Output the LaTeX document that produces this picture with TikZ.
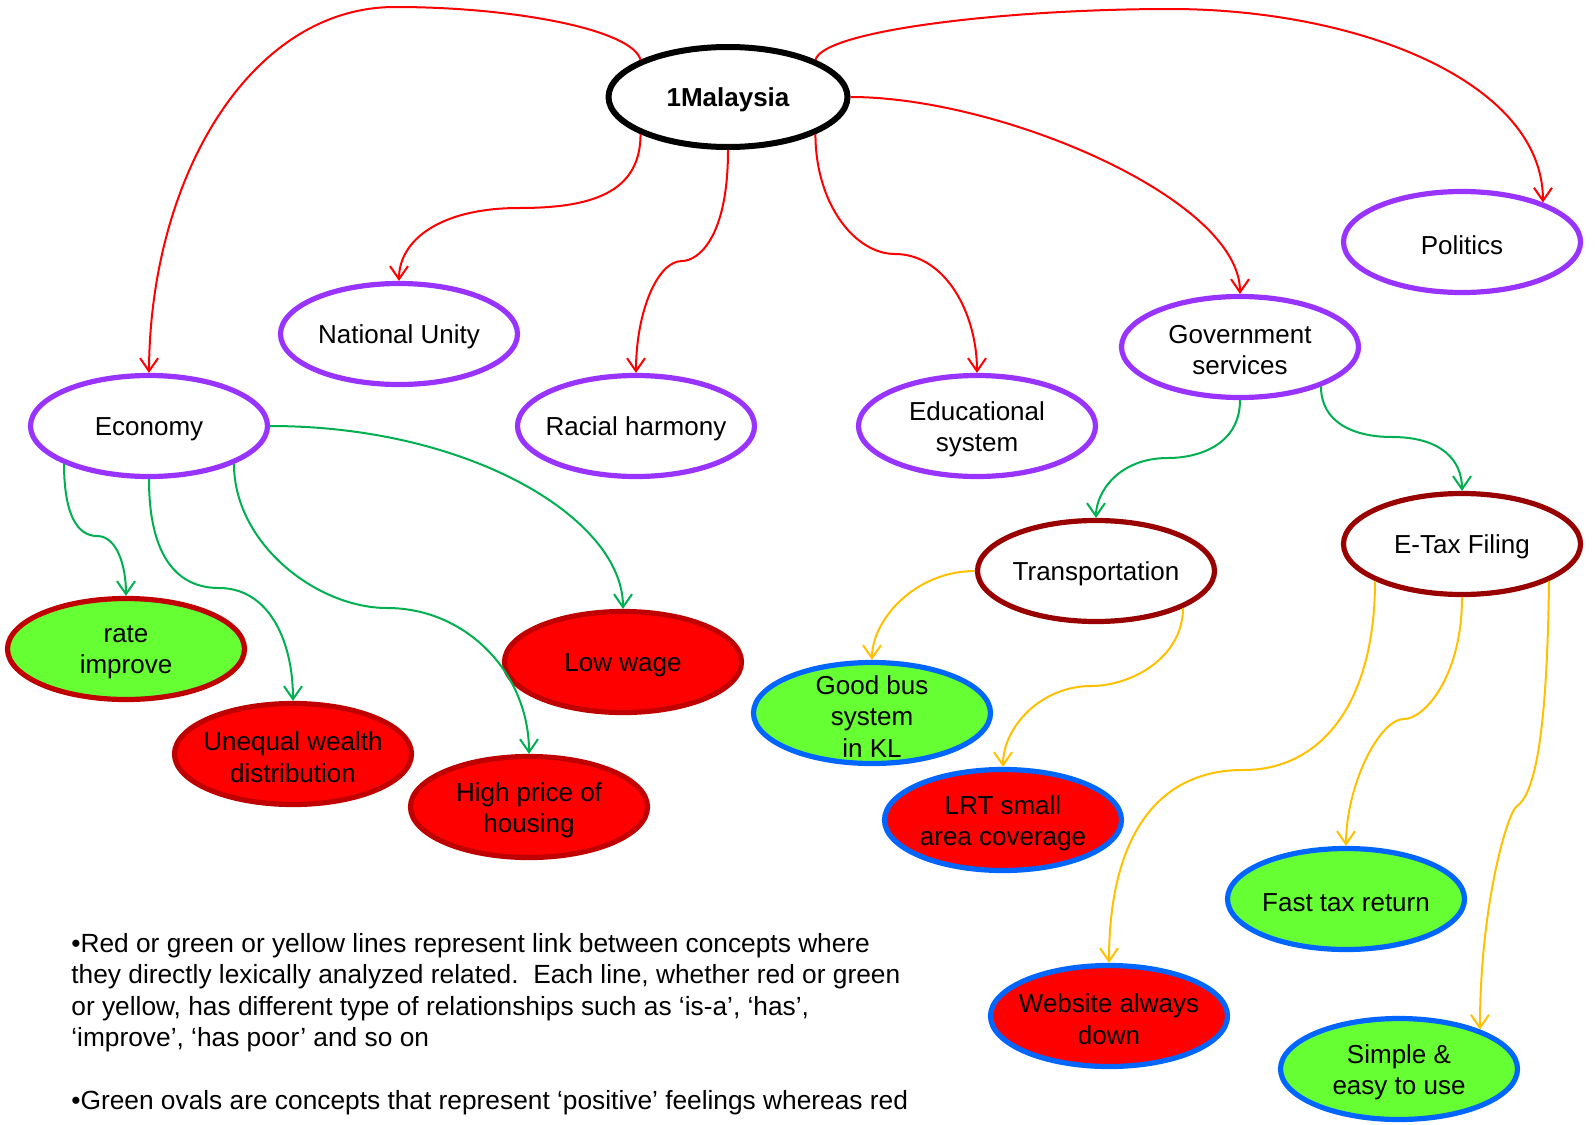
\documentclass[tikz,border=0pt]{standalone}
\usepackage{fontspec}
\setmainfont{Liberation Sans}
\usetikzlibrary{shapes.geometric, arrows.meta}

\definecolor{linkred}{HTML}{FF0000}
\definecolor{linkgreen}{HTML}{00B050}
\definecolor{linkyellow}{HTML}{FFC000}
\definecolor{ovalpurple}{HTML}{9933FF}
\definecolor{ovalmaroon}{HTML}{990000}
\definecolor{ovaldark}{HTML}{C00000}
\definecolor{ovalblue}{HTML}{0066FF}
\definecolor{fillgreen}{HTML}{66FF33}
\definecolor{fillred}{HTML}{FF0000}

\tikzset{
  concept/.style={ellipse, minimum width=118.5pt, minimum height=50.5pt, inner sep=0pt, line width=2.6pt,
    label={[align=center, yshift=-1.6pt, font=\fontsize{13}{15.75}\selectfont]center:#1}},
  hub/.style={ellipse, minimum width=119.5pt, minimum height=50pt, inner sep=0pt, line width=3pt,
    draw=black, fill=white, label={[yshift=-1.6pt, font=\fontsize{13}{15.75}\selectfont\bfseries]center:#1}},
  topic/.style={concept={#1}, draw=ovalpurple, fill=white},
  subtopic/.style={concept={#1}, draw=ovalmaroon, fill=white},
  goodred/.style={concept={#1}, draw=ovaldark, fill=fillgreen},
  badred/.style={concept={#1}, draw=ovaldark, fill=fillred},
  goodblue/.style={concept={#1}, draw=ovalblue, fill=fillgreen},
  badblue/.style={concept={#1}, draw=ovalblue, fill=fillred},
  link/.style={line width=1pt, -{Straight Barb[length=6.5pt,width=9pt]}},
  notes/.style={align=left, inner sep=0pt, font=\fontsize{13.15}{15.75}\selectfont},
}

\begin{document}
\begin{tikzpicture}[x=0.5pt, y=-0.5pt]
    \useasboundingbox (0,0) rectangle (1595,1124);

    % Draw the concept ovals
    \node[hub={1Malaysia}] (mal) at (728,97) {};
    \node[topic={Politics}] (pol) at (1462,242) {};
    \node[topic={National Unity}] (nat) at (399,334) {};
    \node[topic={Economy}] (eco) at (149,426) {};
    \node[topic={Racial harmony}] (rac) at (636,426) {};
    \node[topic={Educational\\system}] (edu) at (977,426) {};
    \node[topic={Government\\services}] (gov) at (1240,347) {};
    \node[subtopic={Transportation}] (tra) at (1096,571) {};
    \node[subtopic={E-Tax Filing}] (tax) at (1462,544) {};

    % Feelings under Economy
    \node[goodred={rate\\improve}] (rate) at (126,649) {};
    \node[badred={Unequal wealth\\distribution}] (une) at (293,754) {};
    \node[badred={Low wage}] (low) at (623,662) {};
    \node[badred={High price of\\housing}] (hou) at (529,807) {};

    % Feelings under Government services
    \node[goodblue={Good bus\\system\\ in KL}] (bus) at (872,713) {};
    \node[badblue={LRT small\\area coverage}] (lrt) at (1003,820) {};
    \node[goodblue={Fast tax return}] (fast) at (1346,899) {};
    \node[badblue={Website always\\down}] (web) at (1109,1016) {};
    \node[goodblue={Simple \&\\easy to use}] (sim) at (1399,1069) {};

    % Red links from 1Malaysia
    \draw[link, linkred] (mal.157) .. controls +(-8,-30) and +(120,0) .. (395,7) .. controls +(-145,0) and +(1,-195) .. (eco.north);
    \draw[link, linkred] (mal.23) .. controls +(8,-30) and +(-160,0) .. (1170,9) .. controls +(190,0) and +(0,-120) .. (pol.26);
    \draw[link, linkred] (mal.east) .. controls +(150,0) and +(0,-95) .. (gov.north);
    \draw[link, linkred] (mal.203) .. controls +(0,60) and +(70,0) .. (519,208) .. controls +(-80,0) and +(0,-40) .. (nat.north);
    \draw[link, linkred] (mal.south) .. controls +(0,90) and +(15,0) .. (682,261) .. controls +(-25,0) and +(0,-60) .. (rac.north);
    \draw[link, linkred] (mal.337) .. controls +(0,70) and +(-40,0) .. (895,254) .. controls +(50,0) and +(0,-60) .. (edu.north);

    % Green links
    \draw[link, linkgreen] (eco.204) .. controls +(0,50) and +(-20,0) .. (97,536) .. controls +(20,0) and +(0,-30) .. (rate.north);
    \draw[link, linkgreen] (eco.south) .. controls +(0,80) and +(-40,0) .. (219,588) .. controls +(50,0) and +(0,-60) .. (une.north);
    \draw[link, linkgreen] (eco.336) .. controls +(0,80) and +(-70,0) .. (387,608) .. controls +(80,0) and +(0,-80) .. (hou.north);
    \draw[link, linkgreen] (eco.east) .. controls +(200,0) and +(0,-90) .. (low.north);
    \draw[link, linkgreen] (gov.south) .. controls +(0,45) and +(30,0) .. (1168,458) .. controls +(-50,0) and +(0,-25) .. (tra.north);
    \draw[link, linkgreen] (gov.334) .. controls +(0,35) and +(-40,0) .. (1392,437) .. controls +(50,0) and +(0,-30) .. (tax.north);

    % Yellow links
    \draw[link, linkyellow] (tra.west) .. controls +(-60,0) and +(0,-40) .. (bus.north);
    \draw[link, linkyellow] (tra.337) .. controls +(0,50) and +(40,0) .. (1091,686) .. controls +(-50,0) and +(0,-40) .. (lrt.north);
    \draw[link, linkyellow] (tax.203) .. controls +(0,120) and +(80,0) .. (1243,770) .. controls +(-90,0) and +(0,-120) .. (web.north);
    \draw[link, linkyellow] (tax.south) .. controls +(0,80) and +(20,0) .. (1404,719) .. controls +(-25,0) and +(0,-60) .. (fast.north);
    \draw[link, linkyellow] (tax.337) .. controls +(-2,160) and +(18,-12) .. (1516,807) .. controls +(-10,10) and +(0,-120) .. (sim.26);

    % Notes
    \node[notes, anchor=north west] (text) at (71,933) {%
      •Red or green or yellow lines represent link between concepts where\\
      they directly lexically analyzed related.\ \ Each line, whether red or green\\
      or yellow, has different type of relationships such as ‘is-a’, ‘has’,\\
      ‘improve’, ‘has poor’ and so on\\[15.75pt]
      •Green ovals are concepts that represent ‘positive’ feelings whereas red};
\end{tikzpicture}
\end{document}
